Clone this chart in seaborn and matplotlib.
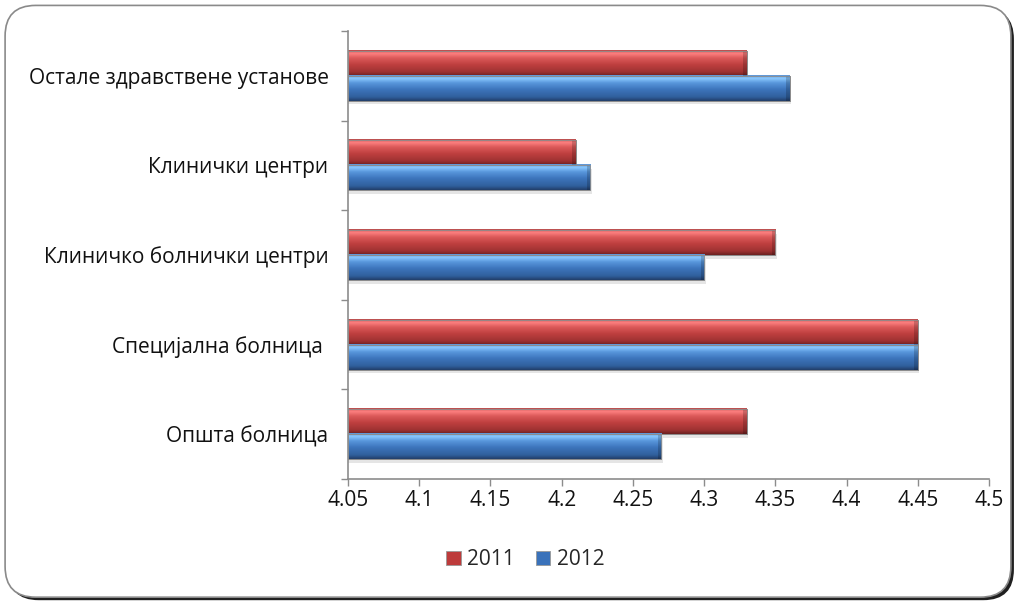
import numpy as np
import pandas as pd
import matplotlib
matplotlib.use("Agg")
import matplotlib.pyplot as plt
from matplotlib.patches import FancyBboxPatch, Rectangle
from matplotlib.colors import LinearSegmentedColormap, to_rgba
from matplotlib.ticker import FixedLocator, FixedFormatter
import seaborn as sns

# Average scores by type of health institution, 2011 vs 2012
categories = [
    "Остале здравствене установе",
    "Клинички центри",
    "Клиничко болнички центри",
    "Специјална болница ",
    "Општа болница",
]
years = ["2011", "2012"]
scores_2011 = [4.33, 4.21, 4.35, 4.45, 4.33]
scores_2012 = [4.36, 4.22, 4.30, 4.45, 4.27]
x_ticks = [4.05, 4.10, 4.15, 4.20, 4.25, 4.30, 4.35, 4.40, 4.45, 4.50]
x_tick_labels = ["4.05", "4.1", "4.15", "4.2", "4.25", "4.3", "4.35", "4.4", "4.45", "4.5"]

df = pd.DataFrame({
    "category": categories * 2,
    "year": [years[0]] * len(categories) + [years[1]] * len(categories),
    "score": scores_2011 + scores_2012,
})

sns.set_theme(style="white")
plt.rcParams["font.family"] = ["Open Sans", "DejaVu Sans"]

base_colors = {"2011": "#bd3b3b", "2012": "#3a72ba"}
gradients = {
    "2011": [(0.0, "#b04848"), (0.12, "#ff8282"), (0.3, "#dc5a5a"),
             (0.55, "#c04040"), (0.85, "#9e3232"), (1.0, "#6a2020")],
    "2012": [(0.0, "#5a8fd0"), (0.12, "#8ccaff"), (0.3, "#5896dc"),
             (0.55, "#3d75bc"), (0.85, "#305f9c"), (1.0, "#213d68")],
}

fig = plt.figure(figsize=(10.18, 6.02), dpi=100)

# rounded outer frame with a dark drop shadow
shadow = FancyBboxPatch((0.008, 0.003), 0.988, 0.983,
                        boxstyle="round,pad=0,rounding_size=0.03",
                        transform=fig.transFigure, facecolor="#202020",
                        edgecolor="none", zorder=-3, mutation_aspect=1.7)
frame = FancyBboxPatch((0.005, 0.008), 0.988, 0.983,
                       boxstyle="round,pad=0,rounding_size=0.03",
                       transform=fig.transFigure, facecolor="white",
                       edgecolor="#8a8a8a", linewidth=1.2, zorder=-2,
                       mutation_aspect=1.7)
fig.patches.extend([shadow, frame])

ax = fig.add_axes([0.3418, 0.2043, 0.6297, 0.7442])
ax.set_facecolor("none")

sns.barplot(data=df, y="category", x="score", hue="year",
            hue_order=years, order=categories, orient="h",
            palette=base_colors, width=0.56, gap=0, ax=ax,
            edgecolor="#8c8c8c", linewidth=0.6, legend=False, errorbar=None)

x_start = x_ticks[0]
ylim = (len(categories) - 0.5, -0.5)

# glossy vertical gradient on every bar, plus a soft shadow underneath
for patch in list(ax.patches):
    fc = patch.get_facecolor()
    year = min(years, key=lambda y: np.sum(np.abs(np.array(to_rgba(base_colors[y])) - np.array(fc))))
    x0, y0 = patch.get_x(), patch.get_y()
    w, h = patch.get_width(), patch.get_height()
    x1 = x0 + w
    ax.add_patch(Rectangle((x_start, y0 + 0.04), x1 - x_start + 0.001, h,
                           facecolor="#000000", alpha=0.10, edgecolor="none",
                           zorder=1))
    cmap = LinearSegmentedColormap.from_list(f"g{year}", gradients[year])
    grad = np.linspace(0, 1, 128).reshape(-1, 1)
    ax.imshow(grad, cmap=cmap, aspect="auto", origin="upper",
              extent=(x_start, x1, y0 + h, y0), zorder=2.5,
              interpolation="bicubic")
    # thin outline over the gradient
    ax.add_patch(Rectangle((x_start, y0), x1 - x_start, h, facecolor="none",
                           edgecolor="#8c8c8c", linewidth=0.6, zorder=2.7))
    # darker bevel at the right end
    ax.add_patch(Rectangle((x1 - 0.0025, y0), 0.0025, h, facecolor="#000000",
                           alpha=0.18, edgecolor="none", zorder=2.6))
    patch.set_zorder(2)

ax.set_ylim(*ylim)
ax.set_xlim(x_ticks[0], x_ticks[-1])

# axes styling
for side in ("top", "right"):
    ax.spines[side].set_visible(False)
for side in ("left", "bottom"):
    ax.spines[side].set_color("#8c8c8c")
    ax.spines[side].set_linewidth(1.2)
    ax.spines[side].set_zorder(5)

ax.xaxis.set_major_locator(FixedLocator(x_ticks))
ax.xaxis.set_major_formatter(FixedFormatter(x_tick_labels))
ax.tick_params(axis="x", which="major", direction="out", length=5, width=1,
               color="#8c8c8c", labelsize=15, pad=3, labelcolor="#111111",
               bottom=True)
ax.set_yticks(range(len(categories)))
ax.set_yticklabels(categories)
ax.tick_params(axis="y", which="major", length=0, labelsize=15, pad=14,
               labelcolor="#111111")
ax.yaxis.set_minor_locator(FixedLocator(np.arange(-0.5, len(categories), 1.0)))
ax.tick_params(axis="y", which="minor", direction="out", length=5, width=1,
               color="#8c8c8c", left=True)
ax.set_xlabel("")
ax.set_ylabel("")
ax.grid(False)

# legend with small square swatches
handles = [Rectangle((0, 0), 1, 1, facecolor=base_colors[y], edgecolor="#999999",
                     linewidth=0.6) for y in years]
fig.legend(handles, years, loc="center", bbox_to_anchor=(0.516, 0.07), ncol=2,
           frameon=False, fontsize=15, handlelength=0.7, handleheight=0.7,
           handletextpad=0.3, columnspacing=1.0)

fig.savefig("out.png", dpi=100)
